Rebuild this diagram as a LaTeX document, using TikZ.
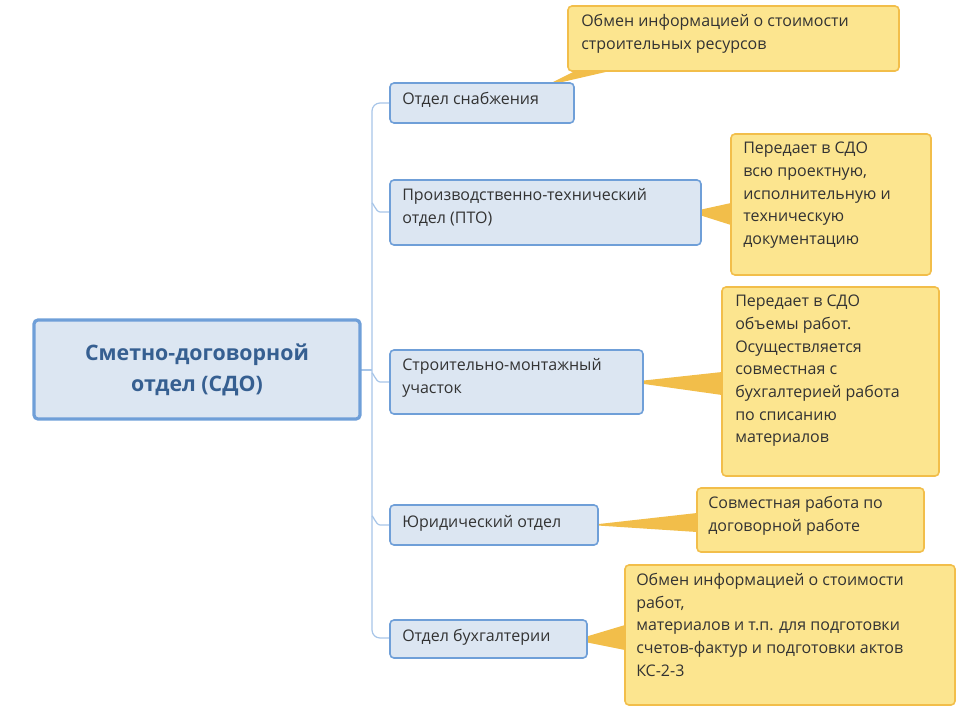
\documentclass[tikz,border=0pt]{standalone}
\usepackage{fontspec}
\setmainfont{Open Sans}
\begin{document}
\begin{tikzpicture}[x=0.75pt,y=-0.75pt,
  blue/.style={draw=bbord,fill=bfill,line width=1.2pt,rounded corners=3pt},
  yel/.style={draw=ybord,fill=yfill,line width=1.2pt,rounded corners=3pt},
  tx/.style={text=txt,font=\fontsize{12}{17}\selectfont,align=left,anchor=north west,inner sep=0pt},
  conn/.style={draw=lcol,line width=0.9pt},
  wedge/.style={fill=ybord,draw=ybord,line width=0.5pt}]
\definecolor{bbord}{HTML}{6F9FD8}
\definecolor{bfill}{HTML}{DCE6F2}
\definecolor{ybord}{HTML}{F2BE4A}
\definecolor{yfill}{HTML}{FCE58F}
\definecolor{txt}{HTML}{333333}
\definecolor{lcol}{HTML}{A7C5E8}
\definecolor{mtxt}{HTML}{365F91}
\useasboundingbox (0,0) rectangle (976,708);
% trunk
\coordinate (tt) at (372,103);
\coordinate (tb) at (372,638);
\draw[conn] (360,370) -- (372,370);
\draw[conn] (390,103) -- (380,103) to[out=180,in=90] (372,111) -- (372,630) to[out=-90,in=180] (380,638) -- (390,638);
\foreach \y in {212,382,525}{\draw[conn] (372,\y-8) to[out=90,in=180] (380,\y) -- (390,\y);}
% wedges
\fill[ybord] (545,86) -- (575,71) -- (610,71) -- cycle;
\fill[ybord] (690,212) -- (731,203) -- (731,225) -- cycle;
\fill[ybord] (630,382) -- (722,372) -- (722,395) -- cycle;
\fill[ybord] (590,525) -- (697,513) -- (697,532) -- cycle;
\fill[ybord] (575,640) -- (625,625) -- (625,650) -- cycle;
% main
\draw[blue,line width=2.4pt] (34,320) rectangle (360,419);
\node[text=mtxt,font=\fontsize{16}{23}\selectfont\bfseries,align=center] (main) at (197,370) {Сметно-договорной\\отдел (СДО)};
% blue boxes
\draw[blue] (390,83) rectangle (574,123);
\node[tx] (b1) at (402,92) {Отдел снабжения};
\draw[blue] (390,180) rectangle (701,245);
\node[tx] (b2) at (402,188) {Производственно-технический\\отдел (ПТО)};
\draw[blue] (390,350) rectangle (643,414);
\node[tx] (b3) at (402,358) {Строительно-монтажный\\ участок};
\draw[blue] (390,505) rectangle (598,545);
\node[tx] (b4) at (402,515) {Юридический отдел};
\draw[blue] (390,620) rectangle (587,658);
\node[tx] (b5) at (402,629) {Отдел бухгалтерии};
% callouts
\draw[yel] (568,6) rectangle (899,71);
\node[tx] (c1) at (581,14) {Обмен информацией о стоимости\\ строительных ресурсов};
\draw[yel] (731,134) rectangle (931,275);
\node[tx] (c2) at (743,142) {Передает в СДО\\всю проектную,\\исполнительную и\\техническую\\документацию};
\draw[yel] (722,287) rectangle (939,476);
\node[tx] (c3) at (735,295) {Передает в СДО\\объемы работ.\\Осуществляется\\совместная с\\бухгалтерией работа\\по списанию\\материалов};
\draw[yel] (697,488) rectangle (924,552);
\node[tx] (c4) at (708,496) {Совместная работа по\\договорной работе};
\draw[yel] (625,565) rectangle (955,705);
\node[tx] (c5) at (636,573) {Обмен информацией о стоимости\\работ,\\материалов и т.п. для подготовки\\счетов-фактур и подготовки актов\\КС-2-3};
\end{tikzpicture}
\end{document}
